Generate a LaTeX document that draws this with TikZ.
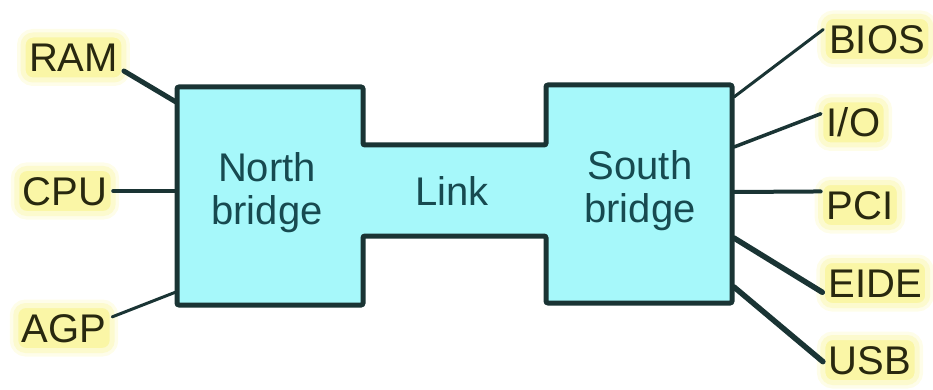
\documentclass[tikz,border=0pt]{standalone}
\usepackage{fontspec}
\setmainfont{Liberation Sans}
\definecolor{boxfill}{HTML}{A6F8FA}
\definecolor{boxline}{HTML}{1A3434}
\definecolor{boxtext}{HTML}{174A50}
\definecolor{labtext}{HTML}{28280F}
\definecolor{glow}{HTML}{FAF6A6}
\begin{document}
\begin{tikzpicture}[x=1pt,y=-1pt,
  lab/.style={fill=glow,draw=glow!55!white,line width=5pt,outer sep=0pt,
    preaction={draw=glow!25!white,line width=12pt},
    rounded corners=10pt,text=labtext,inner xsep=6pt,inner ysep=8pt,
    font=\fontsize{40}{43}\selectfont,text height=29pt,text depth=0pt},
  chip/.style={text=boxtext,align=center,font=\fontsize{40}{43}\selectfont},
  wire/.style={draw=boxline,line cap=round}]
\useasboundingbox (0,0) rectangle (933,390);
% chipset outline
\draw[fill=boxfill,draw=boxline,line width=5pt,rounded corners=2pt]
  (177,87) -- (363,87) -- (363,145) -- (546,145) -- (546,85) -- (732,85)
  -- (732,303) -- (546,303) -- (546,236) -- (363,236) -- (363,305) -- (177,305) -- cycle;
\node[chip] (nb) at (267,193) {North\\bridge};
\node[chip] (lk) at (452,191) {Link};
\node[chip] (sb) at (640,191) {South\\bridge};
% side points
\coordinate (pram) at (176,102);
\coordinate (pcpu) at (176,191);
\coordinate (pagp) at (176,292);
\coordinate (pbios) at (734,97);
\coordinate (pio) at (734,147);
\coordinate (ppci) at (734,192);
\coordinate (peide) at (734,238);
\coordinate (pusb) at (734,287);
% labels
\node[lab] (ram) at (73.5,57.5) {RAM};
\node[lab] (cpu) at (65,191) {CPU};
\node[lab] (agp) at (64,328) {AGP};
\node[lab] (bios) at (877,39) {BIOS};
\node[lab] (io) at (853.5,122.5) {I/O};
\node[lab] (pci) at (860,205) {PCI};
\node[lab] (eide) at (875,283) {EIDE};
\node[lab] (usb) at (870,360) {USB};
% wires
\draw[wire,line width=5pt] (ram.-15) -- (pram);
\draw[wire,line width=4pt] (cpu.east) -- (pcpu);
\draw[wire,line width=3pt] (agp.13) -- (pagp);
\draw[wire,line width=3pt] (bios.170) -- (pbios);
\draw[wire,line width=3.5pt] (io.165) -- (pio);
\draw[wire,line width=4pt] (pci.161.6) -- (ppci);
\draw[wire,line width=5.5pt] (eide.190) -- (peide);
\draw[wire,line width=5.5pt] (usb.182) -- (pusb);
\end{tikzpicture}
\end{document}
